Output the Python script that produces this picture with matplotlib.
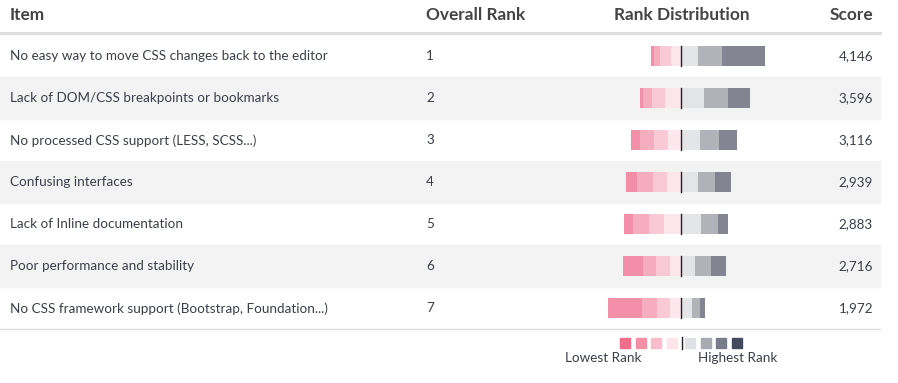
import matplotlib.pyplot as plt
from matplotlib.patches import Rectangle

# Dados
items = [
    "No easy way to move CSS changes back to the editor",
    "Lack of DOM/CSS breakpoints or bookmarks",
    "No processed CSS support (LESS, SCSS...)",
    "Confusing interfaces",
    "Lack of Inline documentation",
    "Poor performance and stability",
    "No CSS framework support (Bootstrap, Foundation...)",
]
overall_rank = [1, 2, 3, 4, 5, 6, 7]
scores = [4146, 3596, 3116, 2939, 2883, 2716, 1972]

# respondents per rank, from lowest rank (7) to highest rank (1)
rank_counts = [
    [21, 42, 77, 70, 119, 168, 301],
    [21, 63, 91, 112, 161, 168, 154],
    [63, 98, 98, 91, 133, 133, 126],
    [77, 112, 98, 98, 119, 119, 112],
    [63, 112, 105, 119, 140, 119, 70],
    [140, 91, 98, 77, 98, 112, 105],
    [238, 105, 91, 77, 77, 56, 35],
]
n_low = 4  # ranks drawn left of the divider

bar_colors = ["#f387a3", "#f6a7bb", "#f9c5d2", "#fde6ec", "#e2e3e5", "#abadb4", "#7a7d8a"]
legend_colors = ["#f06e8c", "#f490a8", "#f8bccc", "#fde4ea", "#e0e1e4", "#a9abb2", "#787b88", "#444a5e"]

plt.rcParams['font.family'] = ['Lato', 'DejaVu Sans']

W, H = 898, 383
fig = plt.figure(figsize=(W / 100, H / 100), dpi=100)

# background axes in pixel coordinates
bg = fig.add_axes([0, 0, 1, 1])
bg.set_xlim(0, W)
bg.set_ylim(H, 0)
bg.axis('off')

txt = "#3b3f4a"
head = "#444444"
row_top, row_h = 35, 42
fs_head, fs_row = 12.4, 9.7

bg.text(10, 15, "Item", fontsize=fs_head, fontweight='bold', color=head, va='center')
bg.text(426, 15, "Overall Rank", fontsize=fs_head, fontweight='bold', color=head, va='center')
bg.text(682, 15, "Rank Distribution", fontsize=fs_head, fontweight='bold', color=head, va='center', ha='center')
bg.text(873, 15, "Score", fontsize=fs_head, fontweight='bold', color=head, va='center', ha='right')
bg.plot([0, 880], [33, 33], color="#dddddd", lw=2)

for i, name in enumerate(items):
    y0 = row_top + i * row_h
    if i % 2 == 1:
        bg.add_patch(Rectangle((0, y0), 880, row_h, color="#f3f3f3", zorder=0))
    yc = y0 + row_h / 2 + 0.5
    bg.text(10, yc, name, fontsize=fs_row, color=txt, va='center')
    bg.text(426, yc, str(overall_rank[i]), fontsize=fs_row, color=txt, va='center')
    bg.text(873, yc, f"{scores[i]:,}", fontsize=fs_row, color=txt, va='center', ha='right')

bottom = row_top + len(items) * row_h
bg.plot([0, 880], [bottom, bottom], color="#dddddd", lw=1)

# legend
lx = 620
for j, c in enumerate(legend_colors):
    x = lx + j * 15.5 + (3 if j >= 4 else 0)
    bg.add_patch(Rectangle((x, 338), 10, 10, color=c))
bg.plot([682, 682], [337, 349], color="#222222", lw=1)
bg.text(603, 358, "Lowest Rank", fontsize=fs_row, color=txt, va='center', ha='center')
bg.text(738, 358, "Highest Rank", fontsize=fs_row, color=txt, va='center', ha='center')

# diverging stacked bars
center_px, scale = 681, 7.0  # pixel of divider, respondents per pixel
x0_px, x1_px = 560, 800
ax = fig.add_axes([x0_px / W, 1 - bottom / H, (x1_px - x0_px) / W, (bottom - row_top) / H])
ax.set_xlim((x0_px - center_px) * scale, (x1_px - center_px) * scale)
ax.set_ylim(len(items) - 0.5, -0.5)
ax.axis('off')
ax.patch.set_alpha(0)

bar_h = 20 / row_h
for i, counts in enumerate(rank_counts):
    low = counts[:n_low]
    high = counts[n_low:]
    left = -sum(low)
    for k, v in enumerate(low):
        ax.barh(i, v, left=left, height=bar_h, color=bar_colors[k], alpha=0.93, lw=0)
        left += v
    left = 0
    for k, v in enumerate(high):
        ax.barh(i, v, left=left, height=bar_h, color=bar_colors[n_low + k], alpha=0.93, lw=0)
        left += v
    ax.plot([0, 0], [i - bar_h / 2, i + bar_h / 2], color="#222222", lw=1)

fig.savefig("out.png", dpi=100)
